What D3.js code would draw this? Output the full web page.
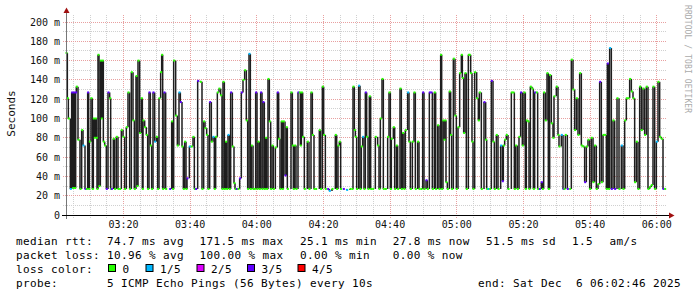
<!DOCTYPE html>
<html>
<head>
<meta charset="utf-8">
<script src="https://cdn.jsdelivr.net/npm/d3@7"></script>
<style>
body { margin: 0; background: #fff; }
svg { display: block; }
text { font-family: "DejaVu Sans Mono", monospace; white-space: pre; }
</style>
</head>
<body>
<svg id="chart" width="697" height="297"></svg>
<script>
// minutes after 03:02:46, median rtt (ms), lost pings out of 5
var minutes = [
  0.0,0.4,0.7,1.3,1.7,2.0,2.3,2.6,2.9,3.1,
  3.6,4.2,4.7,5.1,5.7,6.1,6.5,6.8,7.0,7.5,
  7.9,8.2,8.5,8.8,9.1,9.3,9.6,9.9,10.3,10.6,
  10.9,11.2,11.6,12.1,12.6,13.1,13.4,13.6,14.2,14.6,
  15.1,15.6,16.1,16.6,17.1,17.6,18.1,18.6,19.1,19.6,
  20.1,20.5,21.0,21.3,21.6,22.1,22.6,22.9,23.1,23.6,
  24.1,24.5,24.9,25.3,25.7,26.1,26.6,27.1,27.5,27.9,
  28.4,28.7,29.0,29.4,29.9,31.1,31.7,32.0,32.3,32.9,
  33.4,33.9,34.3,34.8,35.2,35.6,36.0,36.3,37.0,37.6,
  38.1,38.5,38.9,39.5,40.3,40.8,41.3,41.7,42.2,42.6,
  43.1,43.6,44.1,44.5,44.9,45.4,45.9,46.4,46.8,47.1,
  47.5,47.9,48.2,48.6,49.0,49.4,49.9,50.4,50.7,51.1,
  51.6,52.1,52.6,53.1,53.6,54.1,54.5,54.9,55.3,55.6,
  56.1,56.5,56.9,57.3,57.6,58.0,
  58.4,58.8,59.1,59.5,59.9,60.2,60.6,61.0,61.4,61.8,
  62.2,62.8,63.4,63.8,64.2,64.6,64.9,65.2,65.7,66.1,
  66.4,67.5,67.9,68.2,68.6,69.0,69.6,70.0,70.3,70.6,
  71.0,71.5,72.4,72.9,73.5,73.9,74.4,74.9,76.0,76.4,
  76.9,77.3,77.8,78.5,79.0,79.8,80.8,81.2,81.6,82.0,
  82.4,83.2,84.2,85.2,85.8,86.1,86.5,86.8,87.2,87.8,
  88.2,88.6,89.0,89.4,89.8,90.2,90.6,91.0,91.4,92.0,
  92.8,93.5,93.9,94.3,94.8,95.2,95.8,96.5,96.9,97.3,
  97.6,98.2,98.6,99.1,99.5,100.2,100.6,101.0,101.4,101.8,
  102.5,102.9,103.3,103.9,104.4,104.8,105.5,105.9,106.5,107.0,
  107.4,108.0,108.4,109.0,109.5,109.9,110.5,110.9,111.5,111.9,
  112.4,112.7,113.1,113.4,113.7,114.0,114.4,115.0,115.4,115.7,
  116.2,116.7,117.1,117.6,118.1,118.6,118.9,119.3,119.7,120.1,
  120.7,121.0,121.4,121.8,122.1,122.6,123.2,123.7,124.0,124.6,
  125.4,125.9,126.2,126.6,127.1,127.6,128.1,128.5,129.1,129.6,
  130.4,130.9,131.2,131.6,132.1,132.6,133.6,134.1,134.5,134.9,
  135.4,135.9,136.4,136.9,137.4,137.8,138.1,138.6,138.9,139.3,
  139.8,140.2,140.6,141.1,141.5,142.0,142.6,142.9,143.3,143.8,
  144.3,144.7,145.1,145.6,146.1,146.4,147.1,147.6,147.9,148.6,
  149.1,149.4,149.8,150.4,151.1,151.6,152.1,152.6,153.1,153.6,
  154.1,154.6,155.1,155.6,156.1,156.6,157.1,157.6,158.1,158.6,
  159.1,159.6,160.1,160.6,161.1,161.6,162.1,162.4,162.8,163.1,
  163.6,164.1,164.6,165.3,165.9,166.6,167.1,167.6,168.1,168.6,
  169.1,169.6,170.1,170.6,171.1,171.6,172.1,172.6,173.1,173.6,
  174.1,174.6,175.1,175.6,176.1,176.6,177.1,177.6,178.1,178.6,
  179.1,179.6
];
var medianMs = [
  168,121,100,27,127,28,127,28,127,133,
  78,27,88,72,27,27,127,27,76,121,
  27,100,80,100,80,27,166,30,160,100,
  160,76,72,27,127,121,27,27,79,27,
  81,27,27,88,81,27,91,127,27,148,
  98,27,144,30,160,85,121,27,98,91,
  83,27,127,72,27,127,76,81,27,121,
  148,166,27,127,27,27,97,27,160,103,
  72,127,117,71,27,76,27,38,71,71,
  81,27,27,139,138,27,97,90,83,27,
  117,76,81,27,81,127,131,124,27,138,
  27,76,27,83,27,127,71,33,27,27,
  27,38,127,140,150,98,27,167,27,72,
  27,27,127,27,76,27,
  127,27,117,27,80,27,141,97,27,72,
  27,70,127,79,27,97,27,97,41,91,
  27,127,72,27,72,27,127,127,72,127,
  81,27,76,27,127,83,27,27,88,27,
  133,83,27,27,25,27,83,27,72,76,
  27,27,26,27,27,133,88,81,27,134,
  27,71,81,27,127,81,27,123,27,27,
  81,72,27,100,141,27,27,81,127,27,
  79,91,27,72,27,131,27,85,27,88,
  127,76,27,76,127,27,76,27,27,127,
  27,36,27,127,127,27,127,27,93,27,
  166,27,98,78,98,34,27,128,83,27,
  162,103,27,91,147,166,142,85,147,27,
  166,166,147,76,27,148,121,98,127,27,
  117,78,27,27,27,139,76,27,83,27,
  72,35,72,78,83,27,127,127,27,72,
  27,81,127,72,127,27,98,97,27,133,
  131,27,127,127,27,27,34,27,127,98,
  147,27,145,95,80,123,133,83,71,83,
  27,27,83,27,27,161,130,88,121,83,
  147,72,71,34,71,78,27,80,34,72,
  27,32,138,34,83,83,27,157,27,173,
  27,98,27,121,27,72,27,98,121,121,
  141,128,121,34,76,27,133,88,131,83,
  133,27,29,31,133,27,76,138,81,79,
  27,27
];
var lostPings = [
  0,0,0,1,3,0,3,0,3,0,
  0,0,0,1,3,0,3,0,0,0,
  0,0,0,0,0,0,0,0,0,0,
  0,0,0,3,3,0,0,3,0,0,
  0,0,0,0,0,0,0,0,0,0,
  0,0,0,0,0,0,0,0,0,0,
  0,0,3,0,0,3,1,0,0,0,
  0,0,0,3,0,3,0,0,0,0,
  0,1,3,0,0,0,0,3,1,0,
  0,0,3,3,0,0,0,0,0,0,
  3,0,1,0,0,0,0,0,0,0,
  0,0,0,1,0,3,0,0,0,3,
  0,3,3,0,0,0,0,1,0,0,
  0,0,3,0,0,0,
  3,0,3,0,0,0,0,0,0,0,
  0,0,3,0,0,0,0,0,3,0,
  0,0,0,0,0,0,3,0,0,0,
  0,0,0,0,0,0,0,0,0,0,
  0,0,0,3,1,0,0,0,0,0,
  0,3,1,0,0,0,0,0,0,1,
  0,0,1,0,3,0,0,0,0,0,
  0,0,0,0,0,0,0,0,0,0,
  0,0,0,0,0,0,0,0,0,0,
  1,0,0,0,0,0,0,0,0,3,
  0,3,0,3,3,0,0,0,0,0,
  0,0,0,0,0,0,0,0,0,0,
  0,0,0,0,0,0,0,0,0,0,
  0,0,0,0,0,0,0,0,0,0,
  3,0,0,1,0,3,0,0,0,0,
  1,3,0,0,0,0,0,0,0,0,
  0,0,3,0,0,0,0,0,0,0,
  0,0,3,0,0,3,3,0,0,0,
  0,0,0,0,0,0,0,0,0,1,
  3,0,0,3,0,0,0,0,0,0,
  0,0,0,3,0,0,0,0,0,0,
  0,0,3,0,0,0,0,3,0,1,
  3,0,3,0,0,1,0,0,0,0,
  0,0,0,0,0,0,0,0,0,0,
  0,0,0,0,0,0,1,0,0,0,
  3,0
];

var lossLabels = ["0", "1/5", "2/5", "3/5", "4/5"];
var lossColors = ["#26ff00", "#00b8ff", "#dd00ff", "#5e00ff", "#ff0000"];
var yTicks = [0, 20, 40, 60, 80, 100, 120, 140, 160, 180, 200];

var legendRows = [
  [[16, "median rtt:"], [107, "74.7 ms avg"], [199.5, "171.5 ms max"], [300, "25.1 ms min"], [392.7, "27.8 ms now"], [486, "51.5 ms sd"], [572, "1.5"], [609.5, "am/s"]],
  [[16, "packet loss:"], [107, "10.96 % avg"], [199.5, "100.00 % max"], [300, "0.00 % min"], [392.7, "0.00 % now"]],
  [[16, "loss color:"]],
  [[16, "probe:"], [107, "5 ICMP Echo Pings (56 Bytes) every 10s"], [478, "end: Sat Dec  6 06:02:46 2025"]]
];
var boxX = [108.5, 146, 197, 247.5, 298];

var svg = d3.select("#chart");
var start = new Date(2025, 11, 6, 3, 2, 46);
var end = new Date(2025, 11, 6, 6, 2, 46);
var x = d3.scaleTime().domain([start, end]).range([66, 666]);
var y = d3.scaleLinear().domain([0, 200]).range([215, 22]);
function when(m) { return new Date(start.getTime() + m * 60000); }
function snap(v) { return Math.floor(v) + 0.5; }

svg.append("rect").attr("width", 697).attr("height", 297).attr("fill", "#fff");

// grid
var grid = svg.append("g").attr("stroke-dasharray", "1,1").attr("stroke-width", 1);
var minorT = x.ticks(d3.timeMinute.every(5));
grid.selectAll(".vmin").data(minorT).enter().append("line")
  .attr("x1", function(d) { return snap(x(d)); }).attr("x2", function(d) { return snap(x(d)); })
  .attr("y1", 218).attr("y2", 14)
  .attr("stroke", function(d) { return d.getMinutes() % 20 == 0 ? "#e8a0a0" : "#d0d0d0"; });
var hvals = d3.range(10, 201, 10);
grid.selectAll(".hmin").data(hvals).enter().append("line")
  .attr("x1", 63).attr("x2", 667)
  .attr("y1", function(d) { return snap(y(d)); }).attr("y2", function(d) { return snap(y(d)); })
  .attr("stroke", function(d) { return d % 20 == 0 ? "#e8a0a0" : "#d0d0d0"; });

// data: dark verticals between successive medians, coloured level marks
var rows = d3.zip(minutes, medianMs, lostPings);
var px = function(d) { return x(when(d[0])); };
svg.append("g").selectAll("line").data(d3.pairs(rows)).enter().append("line")
  .attr("x1", function(p) { return px(p[1]); }).attr("x2", function(p) { return px(p[1]); })
  .attr("y1", function(p) { return y(p[0][1]); }).attr("y2", function(p) { return y(p[1][1]); })
  .attr("stroke", "#1e1e1e").attr("stroke-width", 1.5);
svg.append("g").selectAll("rect").data(rows).enter().append("rect")
  .attr("x", function(d) { return px(d) - 0.5; })
  .attr("y", function(d) { return y(d[1]) - 1; })
  .attr("width", 2).attr("height", 2)
  .attr("fill", function(d) { return lossColors[d[2]]; });

// axes
svg.append("line").attr("x1", 66.5).attr("x2", 66.5).attr("y1", 219).attr("y2", 12)
  .attr("stroke", "#777");
svg.append("line").attr("x1", 62).attr("x2", 669).attr("y1", 215.5).attr("y2", 215.5)
  .attr("stroke", "#000");
svg.append("path").attr("d", "M66.5,7.5L63.5,13L69.5,13Z").attr("fill", "#a01010");
svg.append("path").attr("d", "M674.5,215.5L669,212.5L669,218.5Z").attr("fill", "#a01010");

svg.append("g").selectAll("text").data(yTicks).enter().append("text")
  .attr("x", 60).attr("y", function(d) { return y(d) + 3.5; })
  .attr("text-anchor", "end").attr("font-size", 10).attr("fill", "#111")
  .text(function(d) { return d == 0 ? "0" : d + " m"; });

var majorT = x.ticks(d3.timeMinute.every(20));
svg.append("g").selectAll("text").data(majorT).enter().append("text")
  .attr("x", function(d) { return x(d); }).attr("y", 227.5)
  .attr("text-anchor", "middle").attr("font-size", 10).attr("fill", "#111")
  .text(d3.timeFormat("%H:%M"));

svg.append("text").attr("transform", "translate(15,113.5) rotate(-90)")
  .attr("text-anchor", "middle").attr("font-size", 11).attr("fill", "#111")
  .text("Seconds");

svg.append("text").attr("transform", "translate(685,5) rotate(90)")
  .attr("font-size", 8).attr("fill", "#aaa").attr("letter-spacing", 0.1)
  .text("RRDTOOL / TOBI OETIKER");

// legend
legendRows.forEach(function(row, i) {
  svg.append("g").selectAll("text").data(row).enter().append("text")
    .attr("x", function(d) { return d[0]; }).attr("y", 245 + i * 14)
    .attr("font-size", 11).attr("letter-spacing", 0.38).attr("fill", "#000")
    .text(function(d) { return d[1]; });
});
var lg = svg.append("g").selectAll("g").data(lossLabels).enter().append("g");
lg.append("rect")
  .attr("x", function(d, i) { return boxX[i]; }).attr("y", 264.5)
  .attr("width", 7).attr("height", 7)
  .attr("fill", function(d, i) { return lossColors[i]; })
  .attr("stroke", "#000");
lg.append("text")
  .attr("x", function(d, i) { return boxX[i] + 14; }).attr("y", 273)
  .attr("font-size", 11).attr("letter-spacing", 0.38).attr("fill", "#000")
  .text(function(d) { return d; });
</script>
</body>
</html>
